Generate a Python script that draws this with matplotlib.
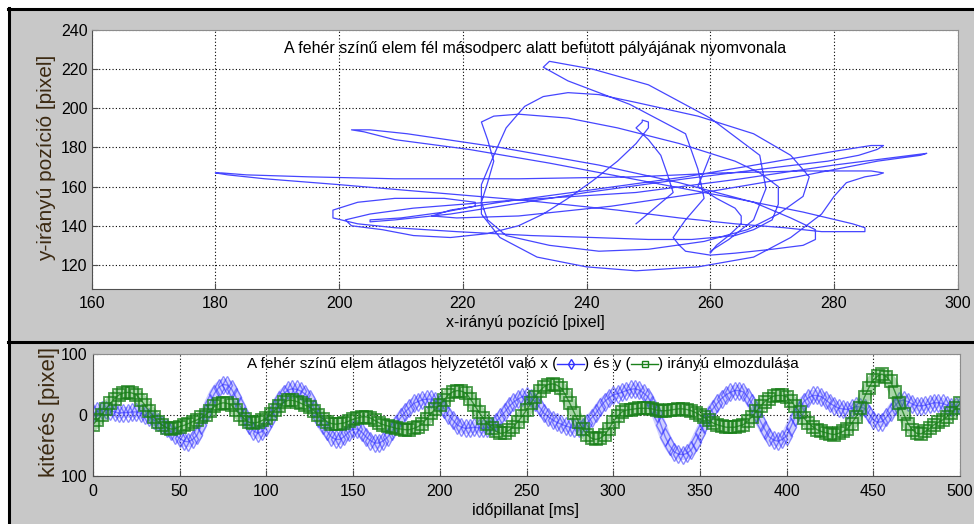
import numpy as np
import matplotlib
matplotlib.use('Agg')
import matplotlib.pyplot as plt
from matplotlib.lines import Line2D
from matplotlib.patches import Rectangle

# idő [ms] és az x / y irányú kitérés [pixel], 2,5 ms-enként leolvasva
t_ms = np.arange(0, 500.1, 2.5)
dx = [3, 6, 9, 8, 7, 5, 3, 4, 4, 5, 5, 3, 0, -4, -8, -12, -16, -21, -27, -33,
      -38, -43, -44, -40, -33, -17, 3, 20, 35, 45, 50, 49, 42, 29, 14, -1, -16, -26, -30, -27,
      -19, -5, 11, 24, 35, 41, 43, 42, 39, 34, 26, 11, -5, -17, -27, -36, -40, -40, -35, -28,
      -23, -23, -28, -36, -42, -46, -46, -42, -36, -26, -14, -4, 5, 12, 19, 22, 25, 26, 26, 23,
      19, 10, 0, -8, -16, -20, -22, -21, -20, -21, -22, -21, -18, -11, -3, 5, 14, 21, 26, 30,
      31, 28, 22, 13, 3, -3, -8, -12, -15, -18, -20, -22, -22, -19, -13, -5, 3, 13, 22, 28,
      33, 35, 37, 40, 42, 43, 41, 36, 30, 17, 3, -16, -36, -50, -60, -64, -65, -63, -57, -45,
      -30, -15, 0, 10, 19, 27, 33, 37, 40, 40, 38, 30, 19, 4, -11, -24, -36, -41, -43, -40,
      -34, -19, -3, 10, 22, 28, 32, 32, 30, 25, 19, 15, 11, 10, 9, 11, 14, 13, 11, 2,
      -8, -12, -11, -4, 5, 15, 23, 24, 22, 18, 15, 15, 16, 18, 20, 20, 19, 16, 13, 14,
      15]
dy = [-16, -8, 0, 10, 19, 27, 33, 36, 37, 36, 33, 25, 16, 6, -3, -11, -17, -21, -23, -22,
      -19, -17, -14, -11, -8, -4, 0, 7, 14, 18, 20, 19, 16, 8, 0, -7, -12, -13, -12, -9,
      -5, 1, 8, 15, 21, 24, 24, 22, 19, 16, 13, 7, 0, -6, -11, -14, -15, -14, -13, -10,
      -7, -5, -3, -3, -5, -9, -13, -16, -18, -20, -22, -23, -24, -24, -22, -19, -14, -6, 3, 10,
      16, 25, 33, 38, 40, 39, 36, 27, 16, 5, -5, -14, -22, -27, -30, -29, -25, -19, -11, -2,
      8, 19, 30, 39, 46, 50, 51, 49, 44, 33, 19, 4, -11, -23, -33, -38, -40, -38, -33, -23,
      -11, -2, 5, 8, 9, 10, 11, 11, 11, 10, 8, 7, 7, 8, 9, 10, 10, 9, 7, 4,
      0, -4, -9, -13, -16, -18, -20, -20, -20, -18, -16, -10, -3, 6, 15, 22, 27, 31, 32, 32,
      30, 23, 14, 5, -5, -13, -19, -24, -27, -29, -31, -32, -30, -27, -23, -14, -3, 12, 30, 45,
      57, 64, 67, 63, 55, 38, 19, 2, -14, -24, -30, -31, -27, -22, -16, -12, -8, -3, 3, 11,
      19]
x_center = 245
y_center = 157

top_xticks = [160, 180, 200, 220, 240, 260, 280, 300]
top_yticks = [120, 140, 160, 180, 200, 220, 240]
bot_xticks = [0, 50, 100, 150, 200, 250, 300, 350, 400, 450, 500]
bot_yticks = [-100, 0, 100]
bot_ylabels = ['100', '0', '100']

font = 'Liberation Sans'
fs = 11.5

W, H = 974, 524
fig = plt.figure(figsize=(W / 100, H / 100), dpi=100)
fig.patch.set_facecolor('white')


def fx(px):
    return px / W


def fy(py):
    return 1 - py / H


# szürke háttér és fekete keretvonalak
fig.add_artist(Rectangle((fx(8), 0), 1 - fx(8), fy(8), transform=fig.transFigure,
                         facecolor='#c8c8c8', edgecolor='none', zorder=0))
for xs, ys in [([8, W], [8.5, 8.5]), ([8.5, 8.5], [8, H]), ([8, W], [341.5, 341.5])]:
    fig.add_artist(Line2D([fx(v) for v in xs], [fy(v) for v in ys],
                          transform=fig.transFigure, color='black', lw=2.2))


def style_axes(ax):
    ax.set_facecolor('white')
    for s in ['left', 'bottom']:
        ax.spines[s].set_color('#505050')
    for s in ['top', 'right']:
        ax.spines[s].set_color('#8c8c8c')
    ax.tick_params(direction='in', length=4, color='#505050', labelsize=fs)
    for lab in ax.get_xticklabels() + ax.get_yticklabels():
        lab.set_family(font)
    ax.grid(True, color='black', linestyle=(0, (1, 2)), lw=0.8)


# felső ábra: a pálya
ax1 = fig.add_axes([fx(91.7), fy(289), (957.7 - 91.7) / W, (289 - 30) / H])
ax1.plot(x_center + np.array(dx), y_center + np.array(dy), color='#4646ff', lw=0.9)
ax1.set_xlim(160, 300)
ax1.set_ylim(107.7, 240)
ax1.set_xticks(top_xticks)
ax1.set_yticks(top_yticks)
style_axes(ax1)
ax1.tick_params(axis='x', pad=5)
ax1.tick_params(axis='y', pad=3)

fig.text(fx(535), fy(48), 'A fehér színű elem fél másodperc alatt befutott pályájának nyomvonala',
         ha='center', va='center', fontsize=fs, family=font)
fig.text(fx(525), fy(323), 'x-irányú pozíció [pixel]', ha='center', va='center',
         fontsize=fs, family=font)
fig.text(fx(47), fy(158), 'y-irányú pozíció [pixel]', ha='center', va='center', rotation=90,
         fontsize=15, family=font, color='#3c2a12')

# alsó ábra: kitérés az idő függvényében
ax2 = fig.add_axes([fx(93), fy(476), 867 / W, 122 / H])
ax2.plot(t_ms, dx, color='#7878ff', lw=8, alpha=0.35, solid_capstyle='round')
ax2.plot(t_ms, dx, color='#3030ff', lw=1, marker='d', ms=9, mfc='none', mew=1, alpha=0.55)
ax2.plot(t_ms, dy, color='#2a9a2a', lw=9, alpha=0.4, solid_capstyle='round')
ax2.plot(t_ms, dy, color='#1a801a', lw=1, marker='s', ms=8, mfc='none', mew=1.3, alpha=0.8)
ax2.set_xlim(0, 500)
ax2.set_ylim(-100, 100)
ax2.set_xticks(bot_xticks)
ax2.set_yticks(bot_yticks)
ax2.set_yticklabels(bot_ylabels)
style_axes(ax2)
ax2.tick_params(axis='x', pad=6)
ax2.tick_params(axis='y', pad=4)

fig.text(fx(525), fy(510), 'időpillanat [ms]', ha='center', va='center',
         fontsize=fs, family=font)
fig.text(fx(49), fy(412), 'kitérés [pixel]', ha='center', va='center', rotation=90,
         fontsize=16, family=font, color='#3c2a12')

# cím a beágyazott jelmagyarázattal
r = fig.canvas.get_renderer()
parts = ['A fehér színű elem átlagos helyzetétől való x (', 'X', ') és y (', 'Y',
         ') irányú elmozdulása']
sample_w = 27
tfs = 11
widths = []
for p in parts:
    if p in ('X', 'Y'):
        widths.append(sample_w)
    else:
        tt = fig.text(0, 0, p, fontsize=tfs, family=font)
        widths.append(tt.get_window_extent(r).width)
        tt.remove()
xp = 523 - sum(widths) / 2
yp = 364
for p, w in zip(parts, widths):
    if p == 'X':
        fig.add_artist(Line2D([fx(xp), fx(xp + w / 2), fx(xp + w)], [fy(yp)] * 3, markevery=[1],
                              marker='d', ms=5, mfc='none', color='#3333ff', lw=1,
                              transform=fig.transFigure))
    elif p == 'Y':
        fig.add_artist(Line2D([fx(xp), fx(xp + w / 2), fx(xp + w)], [fy(yp)] * 3, markevery=[1],
                              marker='s', ms=4.5, mfc='none', color='#1a801a', lw=1,
                              transform=fig.transFigure))
    else:
        fig.text(fx(xp), fy(yp), p, ha='left', va='center', fontsize=tfs, family=font)
    xp += w

fig.savefig('out.png', dpi=100, facecolor=fig.get_facecolor())
